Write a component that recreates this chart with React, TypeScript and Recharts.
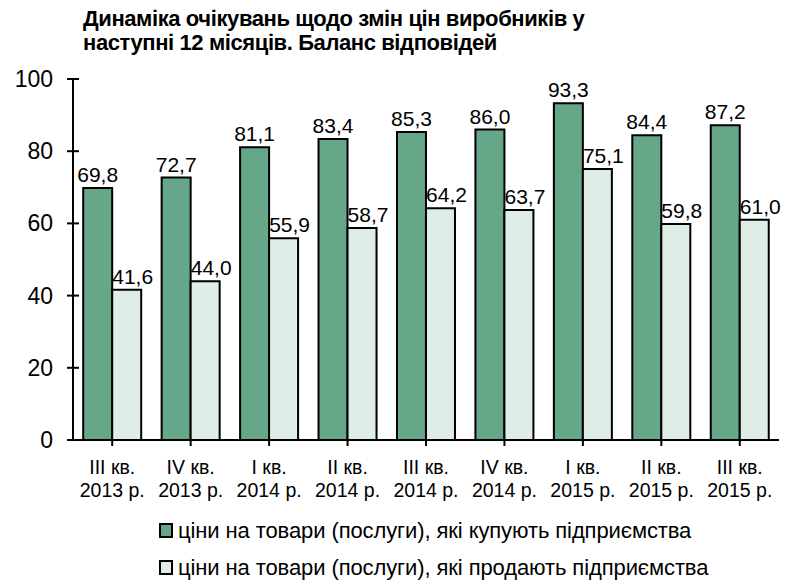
import { Bar, BarChart, XAxis, YAxis, Legend, LabelList } from "recharts"

const quarters = ["III кв.", "IV кв.", "I кв.", "II кв.", "III кв.", "IV кв.", "I кв.", "II кв.", "III кв."]
const years = ["2013 р.", "2013 р.", "2014 р.", "2014 р.", "2014 р.", "2014 р.", "2015 р.", "2015 р.", "2015 р."]
const buyPrices = [69.8, 72.7, 81.1, 83.4, 85.3, 86.0, 93.3, 84.4, 87.2]
const sellPrices = [41.6, 44.0, 55.9, 58.7, 64.2, 63.7, 75.1, 59.8, 61.0]
const yTicks = [0, 20, 40, 60, 80, 100]

const buyName = "ціни на товари (послуги), які купують підприємства"
const sellName = "ціни на товари (послуги), які продають підприємства"

const DARK = "#66a78a"
const LIGHT = "#deede6"
const FONT = "'Liberation Sans', Arial, sans-serif"

const data = quarters.map((q, i) => ({
  label: q + "|" + years[i],
  buy: buyPrices[i],
  sell: sellPrices[i],
}))

const fmt = (v: any) => Number(v).toFixed(1).replace(".", ",")

function YTick(props: any) {
  const { x, y, payload } = props
  return (
    <g>
      <line x1={x - 6} x2={x + 6} y1={y} y2={y} stroke="#000" strokeWidth={2} />
      <text x={x - 20} y={y} dy={8} textAnchor="end" fontSize={23} fill="#000" fontFamily={FONT}>
        {payload.value}
      </text>
    </g>
  )
}

function XTick(props: any) {
  const { x, y, payload } = props
  const [a, b] = String(payload.value).split("|")
  return (
    <text x={x} y={y} textAnchor="middle" fontSize={19.5} fill="#000" fontFamily={FONT}>
      <tspan x={x} dy={26}>{a}</tspan>
      <tspan x={x} dy={23}>{b}</tspan>
    </text>
  )
}

function LegendBox() {
  const rows = [
    { name: buyName, color: DARK },
    { name: sellName, color: LIGHT },
  ]
  return (
    <div style={{ height: 92, paddingTop: 22, boxSizing: "border-box", fontFamily: FONT }}>
      {rows.map((r) => (
        <div key={r.name} style={{ display: "flex", alignItems: "center", height: 37, paddingLeft: 159 }}>
          <span
            style={{
              display: "inline-block",
              width: 10,
              height: 11,
              background: r.color,
              border: "2px solid #000",
              marginRight: 5,
            }}
          />
          <span style={{ fontSize: 22, color: "#000", letterSpacing: -0.1 }}>{r.name}</span>
        </div>
      ))}
    </div>
  )
}

export default function App() {
  return (
    <div style={{ position: "absolute", left: 0, top: 0, width: 798, height: 582, background: "#fff" }}>
      <div
        style={{
          position: "absolute",
          left: 83,
          top: 7,
          fontFamily: FONT,
          fontWeight: "bold",
          fontSize: 22,
          lineHeight: "24px",
          letterSpacing: -0.4,
          color: "#000",
          zIndex: 2,
        }}
      >
        Динаміка очікувань щодо змін цін виробників у
        <br />
        наступні 12 місяців. Баланс відповідей
      </div>
      <BarChart
        width={798}
        height={582}
        data={data}
        margin={{ top: 79, right: 19, bottom: 0, left: 0 }}
        barCategoryGap="13%"
        barGap={0}
      >
        <YAxis
          width={73}
          domain={[0, 100]}
          ticks={yTicks}
          interval={0}
          tick={<YTick />}
          tickLine={false}
          tickSize={0}
          tickMargin={0}
          axisLine={{ stroke: "#000", strokeWidth: 2 }}
        />
        <XAxis
          dataKey="label"
          height={50}
          interval={0}
          tick={<XTick />}
          tickSize={6}
          tickLine={{ stroke: "#000", strokeWidth: 2 }}
          axisLine={{ stroke: "#000", strokeWidth: 2 }}
        />
        <Legend verticalAlign="bottom" content={<LegendBox />} />
        <Bar dataKey="buy" name={buyName} fill={DARK} stroke="#000" strokeWidth={2} isAnimationActive={false}>
          <LabelList dataKey="buy" position="top" offset={6} formatter={fmt} fontSize={21} fill="#000" fontFamily={FONT} />
        </Bar>
        <Bar dataKey="sell" name={sellName} fill={LIGHT} stroke="#000" strokeWidth={2} isAnimationActive={false}>
          <LabelList dataKey="sell" position="top" offset={6} dx={6} formatter={fmt} fontSize={21} fill="#000" fontFamily={FONT} />
        </Bar>
      </BarChart>
    </div>
  )
}
